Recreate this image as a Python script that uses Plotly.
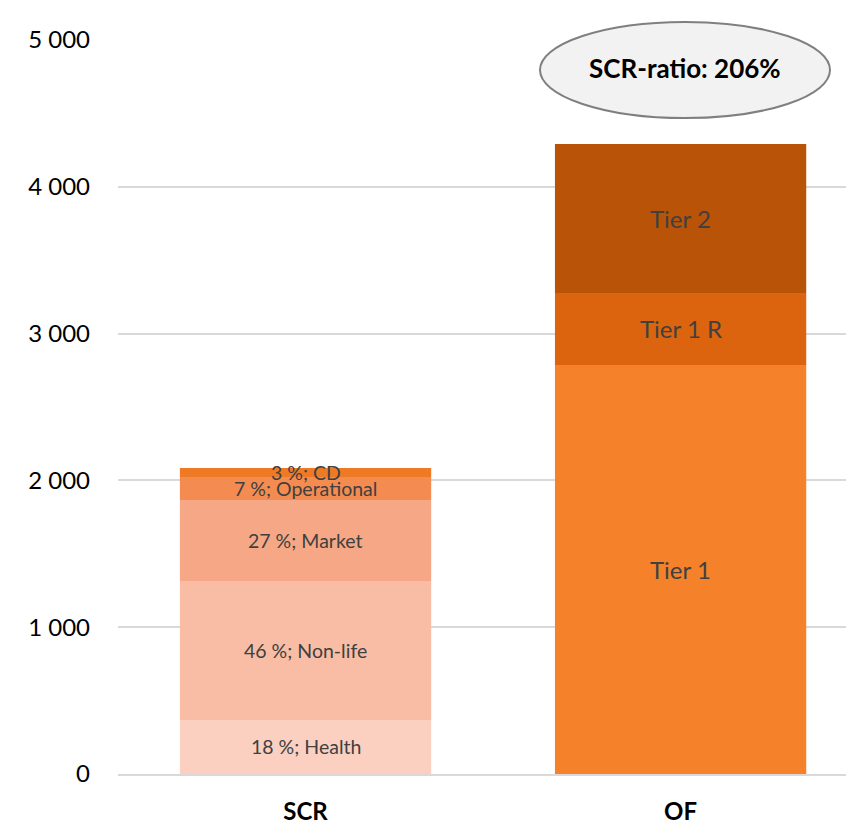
import plotly.graph_objects as go

categories = ["SCR", "OF"]

scr_names = ["Health", "Non-life", "Market", "Operational", "CD"]
scr_values = [368, 947, 551, 157, 61]
scr_pct = ["18 %", "46 %", "27 %", "7 %", "3 %"]
scr_colors = ["#FBD0C1", "#F9BDA6", "#F6A886", "#F48C52", "#EE7A26"]

of_names = ["Tier 1", "Tier 1 R", "Tier 2"]
of_values = [2786, 491, 1015]
of_colors = ["#F5822A", "#DC640E", "#B85307"]

ratio_text = "SCR-ratio: 206%"
y_ticks = [0, 1000, 2000, 3000, 4000, 5000]
y_ticklabels = ["0", "1 000", "2 000", "3 000", "4 000", "5 000"]

FONT = "Lato"
TXT = "#404040"
bar_w = 0.67

fig = go.Figure()
annotations = []

base = 0
for name, v, pct, c in zip(scr_names, scr_values, scr_pct, scr_colors):
    fig.add_trace(go.Bar(x=[categories[0]], y=[v], base=[base], width=bar_w,
                         marker=dict(color=c, line=dict(width=0)),
                         name=name, showlegend=False, hoverinfo="skip"))
    annotations.append(dict(x=categories[0], y=base + v / 2, xref="x", yref="y",
                            xanchor="center", yanchor="middle",
                            text=f"{pct}; {name}", showarrow=False,
                            font=dict(family=FONT, size=19.5, color=TXT)))
    base += v

base = 0
for name, v, c in zip(of_names, of_values, of_colors):
    fig.add_trace(go.Bar(x=[categories[1]], y=[v], base=[base], width=bar_w,
                         marker=dict(color=c, line=dict(width=0)),
                         name=name, showlegend=False, hoverinfo="skip"))
    annotations.append(dict(x=categories[1], y=base + v / 2, xref="x", yref="y",
                            xanchor="center", yanchor="middle",
                            text=name, showarrow=False,
                            font=dict(family=FONT, size=24, color=TXT)))
    base += v

# ratio ellipse (paper coords, plot area: x 118..846, y 40..774)
def px_x(p):
    return (p - 118) / 728
def px_y(p):
    return (774 - p) / 734

fig.add_shape(type="circle", xref="paper", yref="paper",
              x0=px_x(540), x1=px_x(830), y0=px_y(118), y1=px_y(22),
              fillcolor="#F2F2F2", line=dict(color="#7F7F7F", width=2), layer="above")
annotations.append(dict(x=px_x(685), y=px_y(68), xref="paper", yref="paper",
                        xanchor="center", yanchor="middle",
                        text=f"<b>{ratio_text}</b>", showarrow=False,
                        font=dict(family=FONT, size=26, color="#000000")))

fig.update_layout(
    barmode="overlay",
    width=846, height=827,
    margin=dict(l=118, r=0, t=40, b=53, autoexpand=False),
    paper_bgcolor="white", plot_bgcolor="white",
    annotations=annotations,
    xaxis=dict(type="category", range=[-0.5, 1.441], showgrid=False,
               showline=True, linecolor="#D9D9D9", linewidth=2,
               ticks="", tickfont=dict(family=FONT, size=24, color="#000000"),
               tickvals=categories, ticktext=[f"<b>{c}</b>" for c in categories],
               ticklabelstandoff=15, zeroline=False, automargin=False),
    yaxis=dict(range=[0, 5000], tickvals=y_ticks, ticktext=y_ticklabels,
               showgrid=True, gridcolor="#D9D9D9", gridwidth=1.5,
               zeroline=False, showline=False, ticks="",
               ticklabelstandoff=27, automargin=False,
               tickfont=dict(family=FONT, size=24, color="#000000")),
)

fig.write_html("out.html")
